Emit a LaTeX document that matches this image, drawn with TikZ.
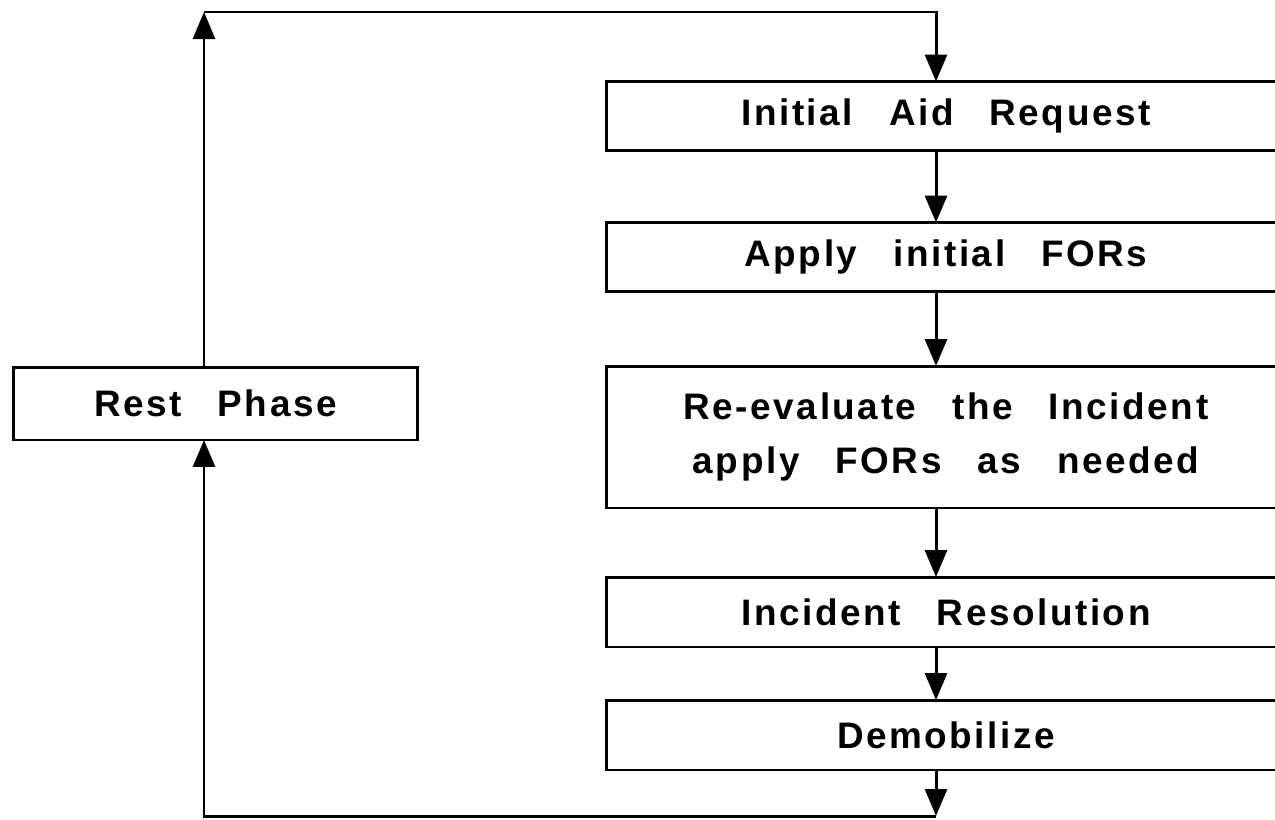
\documentclass[tikz,border=0pt]{standalone}
\usepackage{fontspec}
\setmainfont{Liberation Sans}[WordSpace=2.8, LetterSpace=7]
\usetikzlibrary{arrows.meta, positioning}

\begin{document}
\begin{tikzpicture}[
    x=0.02cm, y=-0.02cm,
    font=\fontsize{21}{31}\selectfont\bfseries,
    line width=1.7pt,
    >={Triangle[length=5.4mm, width=4.4mm]},
    stage/.style={rectangle, draw=black, inner sep=0pt, outer sep=0pt, minimum width=13.6cm, minimum height=1.38cm, align=center},
    restbox/.style={rectangle, draw=black, inner sep=0pt, outer sep=0pt, minimum width=8.1cm, minimum height=1.46cm, align=center}
]
    \useasboundingbox (0,0) rectangle (1275,819);

    % right column of stages
    \node[stage] (aid) at (946,116) {Initial Aid Request};
    \node[stage] (apply) at (946,257) {Apply initial FORs};
    \node[stage, minimum height=2.84cm] (reeval) at (946,437) {Re-evaluate the Incident\\apply FORs as needed};
    \node[stage, minimum height=1.4cm] (resolve) at (946,612) {Incident Resolution};
    \node[stage, minimum height=1.4cm] (demob) at (946,735) {Demobilize};

    % left box
    \node[restbox] (rest) at (215.5,403.5) {Rest Phase};

    % loop corners
    \coordinate (col) at (936,0);
    \coordinate (topleft) at (204,12);
    \coordinate (topright) at (936,12);
    \coordinate (botright) at (936,816);
    \coordinate (botleft) at (204,816);

    \draw[->] (aid.south -| col) -- (apply.north -| col);
    \draw[->] (apply.south -| col) -- (reeval.north -| col);
    \draw[->] (reeval.south -| col) -- (resolve.north -| col);
    \draw[->] (resolve.south -| col) -- (demob.north -| col);
    \draw[->] (demob.south -| col) -- (botright);
    \draw[->] (botright) -- (botleft) -- (rest.south -| botleft);
    \draw[->] (rest.north -| topleft) -- (topleft);
    \draw[->] (topleft) -- (topright) -- (aid.north -| col);
\end{tikzpicture}
\end{document}
